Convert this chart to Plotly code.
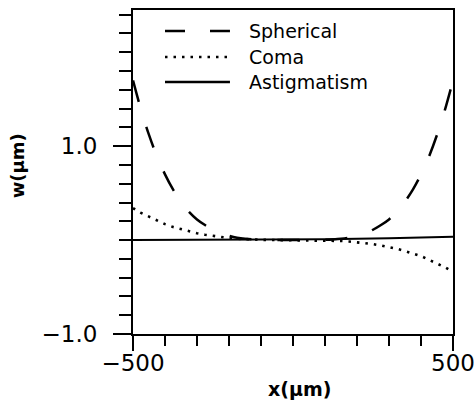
import plotly.graph_objects as go

# Aberration wavefront profiles across the aperture
x_um = [-500, -475, -450, -425, -400, -375, -350, -325, -300, -275, -250,
        -225, -200, -175, -150, -125, -100, -75, -50, -25, 0,
        25, 50, 75, 100, 125, 150, 175, 200, 225, 250,
        275, 300, 325, 350, 375, 400, 425, 450, 475, 500]

spherical = [1.70, 1.39, 1.12, 0.89, 0.70, 0.54, 0.41, 0.30, 0.22, 0.16, 0.11,
             0.07, 0.045, 0.026, 0.014, 0.007, 0.003, 0.001, 0.0, 0.0, 0.0,
             0.0, 0.0, 0.001, 0.003, 0.007, 0.014, 0.026, 0.045, 0.07, 0.11,
             0.16, 0.22, 0.30, 0.41, 0.54, 0.70, 0.89, 1.12, 1.39, 1.70]

coma = [0.34, 0.29, 0.25, 0.21, 0.17, 0.14, 0.117, 0.093, 0.073, 0.057, 0.043,
        0.031, 0.022, 0.015, 0.009, 0.005, 0.003, 0.001, 0.0, 0.0, 0.0,
        0.0, 0.0, -0.001, -0.003, -0.005, -0.009, -0.015, -0.022, -0.031, -0.043,
        -0.057, -0.073, -0.093, -0.117, -0.14, -0.17, -0.21, -0.25, -0.29, -0.34]

x_astig = [-500, -300, -100, 0, 100, 300, 500]
astigmatism = [0.0, 0.0, 0.0, 0.003, 0.008, 0.02, 0.035]

labels = ["Spherical", "Coma", "Astigmatism"]

FONT = "DejaVu Sans"
DASH_SPH = "22px,26px"
DASH_COMA = "2.5px,6px"

fig = go.Figure()
fig.add_trace(go.Scatter(x=x_astig, y=astigmatism, mode="lines", name=labels[2],
                         line=dict(color="black", width=2)))
fig.add_trace(go.Scatter(x=x_um, y=coma, mode="lines", name=labels[1],
                         line=dict(color="black", width=2.6, dash=DASH_COMA)))
fig.add_trace(go.Scatter(x=x_um, y=spherical, mode="lines", name=labels[0],
                         line=dict(color="black", width=2.5, dash=DASH_SPH,
                                   shape="spline")))

# hand-drawn style legend: sample line + label per row
legend_rows = [(labels[0], "20px,25px", 0.935), (labels[1], DASH_COMA, 0.855),
               (labels[2], "solid", 0.778)]
for text, dash, yy in legend_rows:
    fig.add_shape(type="line", xref="paper", yref="paper",
                  x0=0.10, x1=0.303, y0=yy, y1=yy,
                  line=dict(color="black", width=2.4, dash=dash))
    fig.add_annotation(x=0.356, y=yy, xref="paper", yref="paper", text=text,
                       showarrow=False, xanchor="left", yanchor="middle",
                       font=dict(family=FONT, size=19, color="black"))

# axis titles
fig.add_annotation(x=0.52, y=-0.17, xref="paper", yref="paper", text="<b>x(μm)</b>",
                   showarrow=False, xanchor="center", yanchor="middle",
                   font=dict(family=FONT, size=19, color="black"))
fig.add_annotation(x=-0.36, y=0.52, xref="paper", yref="paper", text="<b>w(μm)</b>",
                   showarrow=False, textangle=-90, xanchor="center", yanchor="middle",
                   font=dict(family=FONT, size=18, color="black"))

fig.update_layout(
    width=474, height=403,
    margin=dict(l=133, r=21, t=10, b=69),
    paper_bgcolor="white", plot_bgcolor="white",
    showlegend=False,
    font=dict(family=FONT, size=23, color="black"),
)
fig.update_xaxes(
    range=[-500, 500], tickmode="linear", tick0=-500, dtick=1000,
    ticks="outside", ticklen=15, tickwidth=2, tickcolor="black",
    ticklabeloverflow="allow", ticklabelstandoff=-8,
    showline=True, linewidth=2, linecolor="black", mirror=True,
    showgrid=False, zeroline=False, automargin=False,
    tickfont=dict(family=FONT, size=23),
    minor=dict(tickmode="linear", tick0=0, dtick=100, ticks="outside",
               ticklen=10, tickwidth=2, tickcolor="black", showgrid=False),
)
fig.update_yaxes(
    range=[-1.0, 2.45], tickmode="linear", tick0=-1, dtick=2, tickformat=".1f",
    ticks="outside", ticklen=18, tickwidth=2, tickcolor="black",
    ticklabelstandoff=11,
    showline=True, linewidth=2, linecolor="black", mirror=True,
    showgrid=False, zeroline=False, automargin=False,
    tickfont=dict(family=FONT, size=23),
    minor=dict(tickmode="linear", tick0=0, dtick=0.2, ticks="outside",
               ticklen=12, tickwidth=2, tickcolor="black", showgrid=False),
)

fig.write_html("out.html")
